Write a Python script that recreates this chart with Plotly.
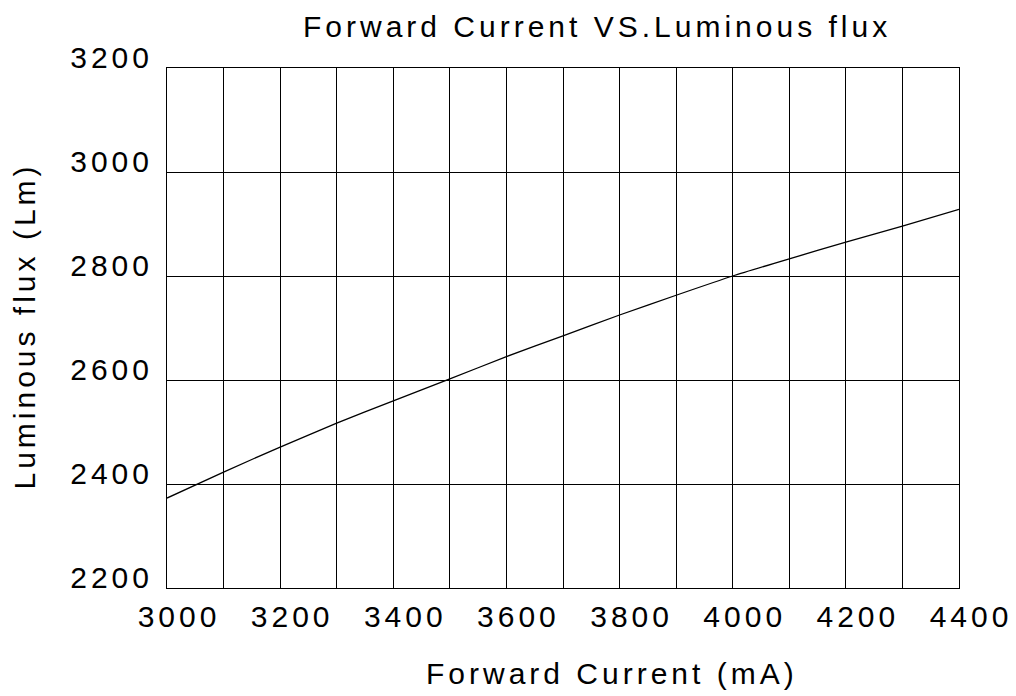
import plotly.graph_objects as go

# Data
current_ma = [3000, 3100, 3200, 3300, 3400, 3500, 3600, 3700, 3800, 3900, 4000, 4100, 4200, 4300, 4400]
flux_lm = [2373, 2423, 2471, 2517, 2560, 2602, 2645, 2685, 2725, 2763, 2800, 2833, 2865, 2896, 2928]

x_ticks = [3000, 3200, 3400, 3600, 3800, 4000, 4200, 4400]
y_ticks = [2200, 2400, 2600, 2800, 3000, 3200]

title_text = "Forward Current VS.Luminous flux"
x_title = "Forward Current (mA)"
y_title = "Luminous flux (Lm)"

FONT = "Liberation Sans, Arial, sans-serif"
W, H = 1016, 696
L, R, T, B = 167, 54, 68, 108
PW, PH = W - L - R, H - T - B


def px_to_paper(px, py):
    return (px - L) / PW, (H - B - py) / PH


fig = go.Figure()
fig.add_trace(go.Scatter(
    x=current_ma, y=flux_lm, mode="lines",
    line=dict(color="black", width=1.3, shape="spline", smoothing=0.6),
    showlegend=False, hoverinfo="skip",
))

fig.update_layout(
    width=W, height=H,
    margin=dict(l=L, r=R, t=T, b=B),
    paper_bgcolor="white", plot_bgcolor="white",
    font=dict(family=FONT, size=30, color="black"),
    showlegend=False,
)

fig.update_xaxes(
    range=[3000, 4400], tickvals=x_ticks, ticktext=[str(v) for v in x_ticks],
    showgrid=True, gridcolor="black", gridwidth=1,
    minor=dict(dtick=100, showgrid=True, gridcolor="black", gridwidth=1, tick0=3000),
    showline=True, linecolor="black", linewidth=1, mirror=True,
    ticks="", ticklabelshift=12, ticklabelstandoff=2,
    tickfont=dict(family=FONT, size=30, color="black"),
    zeroline=False,
)
fig.update_yaxes(
    range=[2200, 3200], tickvals=y_ticks, ticktext=[str(v) for v in y_ticks],
    showgrid=True, gridcolor="black", gridwidth=1,
    showline=True, linecolor="black", linewidth=1, mirror=True,
    ticks="", ticklabelshift=-11, ticklabelstandoff=7,
    tickfont=dict(family=FONT, size=30, color="black"),
    zeroline=False,
)

tx, ty = px_to_paper(599, 26)
fig.add_annotation(text=title_text, x=tx, y=ty, xref="paper", yref="paper",
                   xanchor="center", yanchor="middle", showarrow=False,
                   font=dict(family=FONT, size=30, color="black"))
ax, ay = px_to_paper(614, 673)
fig.add_annotation(text=x_title, x=ax, y=ay, xref="paper", yref="paper",
                   xanchor="center", yanchor="middle", showarrow=False,
                   font=dict(family=FONT, size=30, color="black"))
bx, by = px_to_paper(23, 326)
fig.add_annotation(text=y_title, x=bx, y=by, xref="paper", yref="paper",
                   xanchor="center", yanchor="middle", showarrow=False, textangle=-90,
                   font=dict(family=FONT, size=30, color="black"))

post = ("var s=document.createElement('style');"
        "s.textContent='html,body{margin:0;padding:0}.main-svg text{letter-spacing:4px}';"
        "document.head.appendChild(s);")

fig.write_html("out.html", post_script=post, config={"displayModeBar": False})
